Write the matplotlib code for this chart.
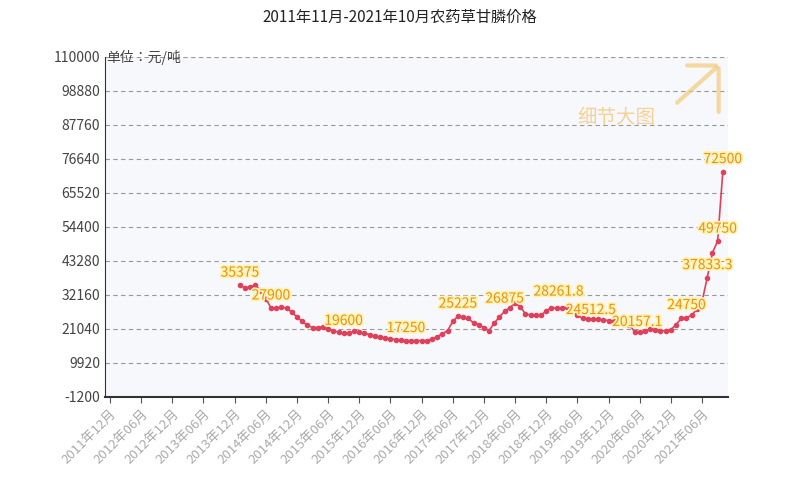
import matplotlib
matplotlib.use("Agg")
import matplotlib.pyplot as plt
import matplotlib.patheffects as pe
from matplotlib import font_manager as fm

names = {f.name for f in fm.fontManager.ttflist}
cjk = "Noto Sans CJK SC"
if cjk not in names:
    cands = sorted(n for n in names if "CJK" in n and "Sans" in n)
    if cands:
        cjk = cands[0]
plt.rcParams["font.family"] = [cjk, "DejaVu Sans"]

title = "2011年11月-2021年10月农药草甘膦价格"
unit = "单位：元/吨"
start_index = 26  # 2014年01月, index 0 = 2011年11月
prices = [35375, 34500, 34800, 35375, 33500, 31000, 27900, 27900, 28200, 27900,
          26500, 25000, 23500, 22300, 21500, 21500, 21800, 21000, 20500, 20000,
          19600, 19600, 20300, 20000, 19600, 19200, 18700, 18500, 18000, 17800,
          17600, 17500, 17250, 17250, 17250, 17250, 17250, 17800, 18500, 19500,
          20500, 23500, 25225, 25000, 24500, 23000, 22500, 21500, 20500, 23000,
          25000, 26875, 28000, 29500, 28300, 26000, 25600, 25600, 25500, 27000,
          28000, 27800, 27900, 28261.8, 28000, 25500, 24512.5, 24400, 24300, 24200,
          24000, 23800, 23500, 23800, 22800, 22500, 20157.1, 20000, 20400, 21000,
          20800, 20500, 20500, 20800, 22500, 24500, 24750, 25500, 27500, 30000,
          37833.3, 46000, 49750, 72500]
labeled = ["35375", "27900", "19600", "17250", "25225", "26875", "28261.8",
           "24512.5", "20157.1", "24750", "37833.3", "49750", "72500"]
tick_labels = [f"{y}年{m:02d}月" for y in range(2011, 2022) for m in (6, 12)
               if not (y == 2011 and m == 6)][:20]
yticks = [-1200 + 11120 * i for i in range(11)]

fig = plt.figure(figsize=(8, 5), dpi=100)
fig.patch.set_facecolor("white")
ax = fig.add_axes([0.131, 0.206, 0.779, 0.68])
ax.set_facecolor("#f7f8fc")

xs = list(range(start_index, start_index + len(prices)))
ax.plot(xs, prices, color="#e0405a", lw=1.2, marker="o", ms=3, zorder=3)

offsets = {"28261.8": (-6, 6), "24512.5": (6, 1), "20157.1": (2, 2)}
used = set()
for x, v in zip(xs, prices):
    s = f"{v:g}"
    if s in labeled and s not in used:
        used.add(s)
        ax.annotate(s, (x, v), xytext=offsets.get(s, (0, 4)), textcoords="offset points",
                    ha="center", va="bottom", fontsize=10, color="#e8901a",
                    path_effects=[pe.withStroke(linewidth=2.5, foreground="#fff3b0")],
                    zorder=4)

ax.set_xlim(0, 120)
ax.set_ylim(-1200, 110000)
ax.set_yticks(yticks)
ax.set_yticklabels([str(t) for t in yticks], fontsize=10, color="#444444")
ax.set_xticks([1 + 6 * i for i in range(20)])
ax.set_xticklabels(tick_labels, rotation=45, ha="right", rotation_mode="anchor",
                   fontsize=9.5, color="#aaaaaa")
ax.tick_params(axis="y", length=0)
ax.tick_params(axis="x", length=4, color="#555555")
for y in yticks[1:]:
    ax.axhline(y, color="#999999", lw=0.8, ls=(0, (4, 3)), zorder=1)
for side in ("top", "right"):
    ax.spines[side].set_visible(False)
ax.spines["left"].set_color("#333333")
ax.spines["bottom"].set_color("#333333")
ax.spines["bottom"].set_linewidth(1.5)

fig.text(0.5, 0.965, title, ha="center", va="center", fontsize=11, color="#222222")
fig.text(0.133, 0.885, unit, ha="left", va="center", fontsize=10, color="#444444")
fig.text(0.77, 0.765, "细节大图", ha="center", va="center", fontsize=14,
         color="#f5c97a", alpha=0.8)
for xy0 in [(0.93, 0.975), (0.985, 0.83), (0.915, 0.86)]:
    ax.annotate("", xy=(0.985, 0.975), xytext=xy0, xycoords="axes fraction",
                arrowprops=dict(arrowstyle="-", color="#f5c97a", lw=3, alpha=0.7))

fig.savefig("out.png", dpi=100)
